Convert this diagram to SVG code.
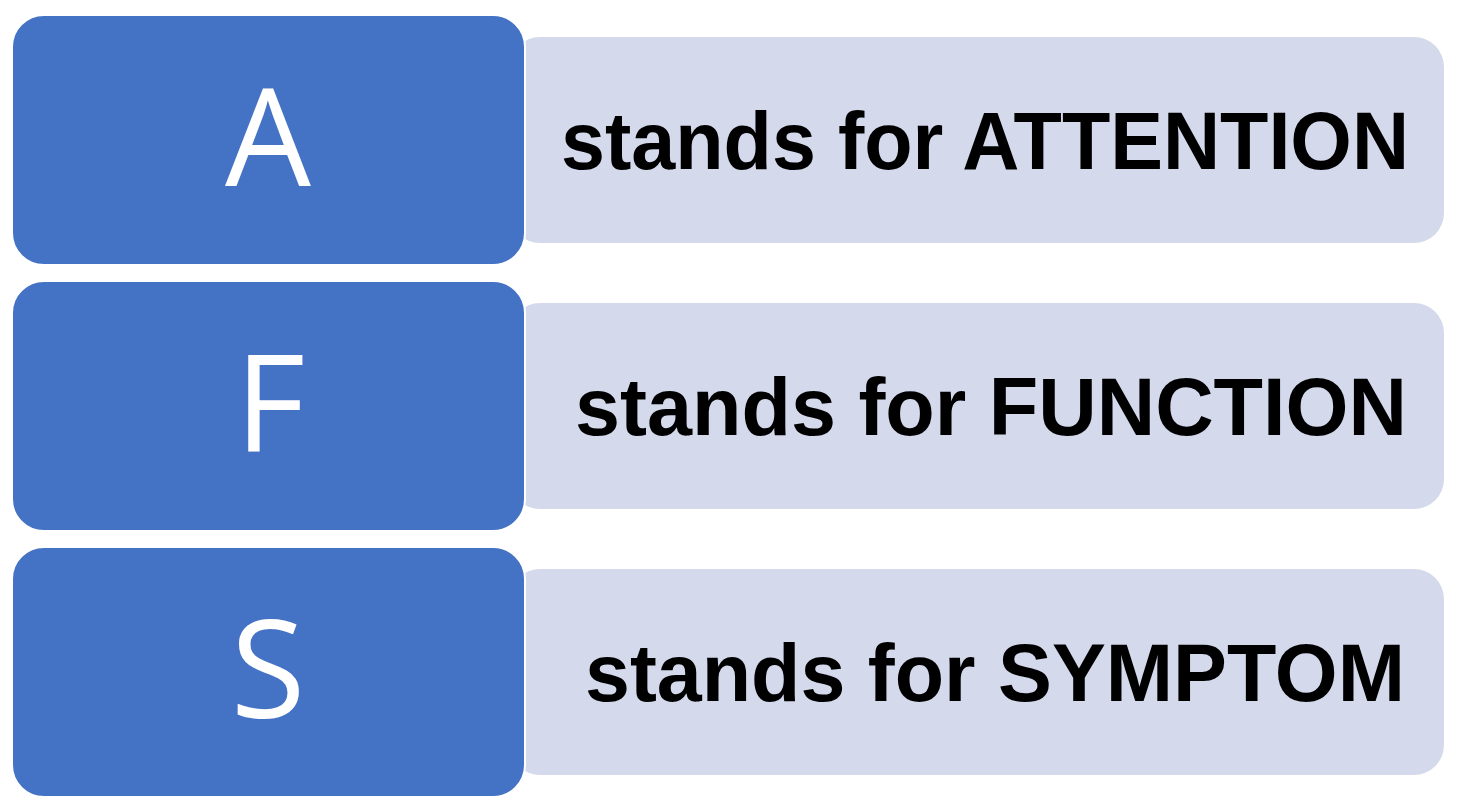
<svg xmlns="http://www.w3.org/2000/svg" width="1460" height="811" viewBox="0 0 1460 811">
  <style>
    .key { fill: #4472C4; stroke: #FFFFFF; stroke-width: 2; }
    .desc { fill: #D4D9EC; }
    .letter { font-family: "Open Sans", "Noto Sans", "Liberation Sans", sans-serif; font-size: 136px; fill: #FFFFFF; text-anchor: middle; }
    .label { font-family: "Liberation Sans", Arial, sans-serif; font-weight: bold; font-size: 82px; fill: #000000; }
  </style>
  <rect x="0" y="0" width="1460" height="811" fill="#FFFFFF"/>
  <g id="connectors"></g>
  <g id="row-a">
    <rect class="desc" x="510" y="37" width="934" height="206" rx="30" ry="30"/>
    <rect class="key" x="12" y="15" width="513" height="250" rx="32" ry="32"/>
    <text class="letter" x="268" y="186">A</text>
    <text class="label" x="561" y="169" textLength="848" lengthAdjust="spacingAndGlyphs">stands for ATTENTION</text>
  </g>
  <g id="row-f">
    <rect class="desc" x="510" y="303" width="934" height="206" rx="30" ry="30"/>
    <rect class="key" x="12" y="281" width="513" height="250" rx="32" ry="32"/>
    <text class="letter" x="270" y="452">F</text>
    <text class="label" x="575" y="435" textLength="832" lengthAdjust="spacingAndGlyphs">stands for FUNCTION</text>
  </g>
  <g id="row-s">
    <rect class="desc" x="510" y="569" width="934" height="206" rx="30" ry="30"/>
    <rect class="key" x="12" y="547" width="513" height="250" rx="32" ry="32"/>
    <text class="letter" x="268" y="718">S</text>
    <text class="label" x="585" y="701" textLength="820" lengthAdjust="spacingAndGlyphs">stands for SYMPTOM</text>
  </g>
</svg>
